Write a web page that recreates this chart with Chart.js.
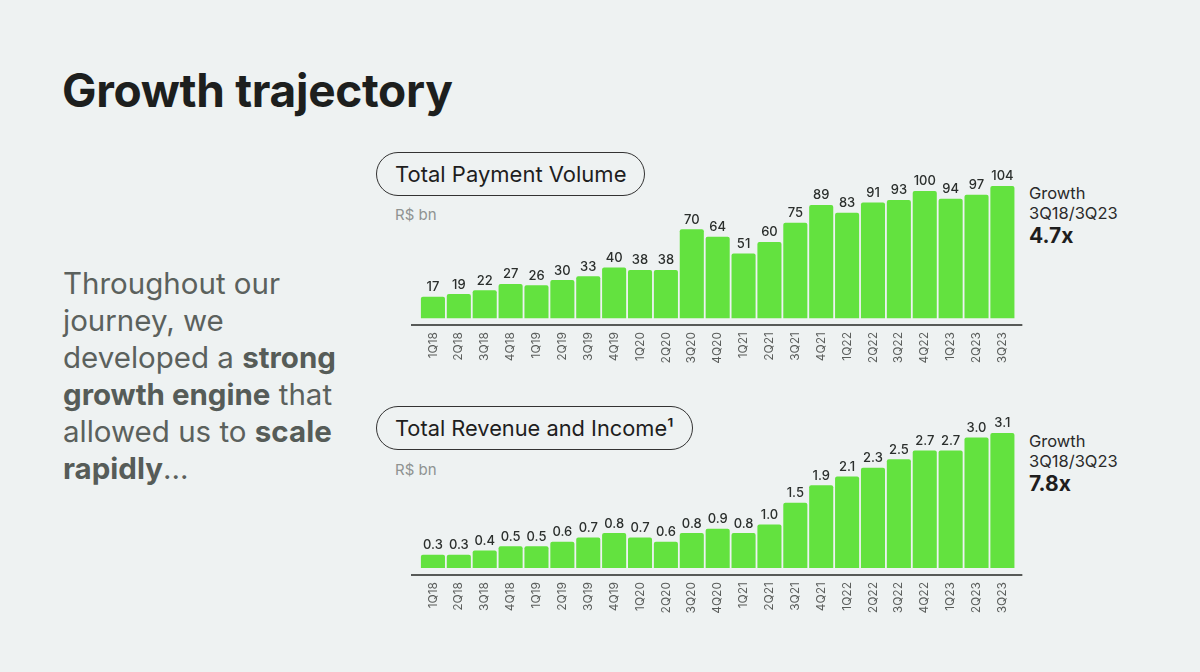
<!DOCTYPE html>
<html>
<head>
<meta charset="utf-8">
<script src="https://cdn.jsdelivr.net/npm/chart.js@4/dist/chart.umd.min.js"></script>
<style>
  html, body { margin: 0; padding: 0; }
  body { width: 1200px; height: 672px; background: #eef2f2; position: relative; overflow: hidden; font-family: Inter, "Noto Sans", sans-serif; }
  .abs { position: absolute; }
  #title { left: 62px; top: 62px; font-size: 46px; font-weight: 700; color: #1d1f1e; letter-spacing: -0.3px; }
  #intro { left: 63px; top: 265px; font-size: 29.5px; line-height: 37px; color: #5b615d; width: 300px; }
  #intro b { font-weight: 700; color: #565c58; }
  .pill { border: 1.5px solid #333; border-radius: 23px; height: 42px; line-height: 42px; padding: 0 18px; color: #1e1e1e; box-sizing: content-box; }
  .unit { font-size: 15px; color: #8f9391; }
  .growth { font-size: 16.5px; line-height: 20px; color: #2a2a2a; }
  .growth b { display: block; font-size: 21px; line-height: 26px; font-weight: 700; color: #1e1e1e; }
</style>
</head>
<body>
<div id="title" class="abs">Growth trajectory</div>
<div id="intro" class="abs">Throughout our<br>journey, we<br>developed a <b>strong</b><br><b>growth engine</b> that<br>allowed us to <b>scale</b><br><b>rapidly</b>...</div>

<div class="abs pill" style="left:376px; top:152px; font-size:22px;">Total Payment Volume</div>
<div class="abs unit" style="left:395px; top:205px;">R$ bn</div>
<div class="abs growth" style="left:1029px; top:183px;">Growth<br>3Q18/3Q23<b>4.7x</b></div>

<div class="abs pill" style="left:376px; top:406px; font-size:21.8px;">Total Revenue and Income¹</div>
<div class="abs unit" style="left:395px; top:460px;">R$ bn</div>
<div class="abs growth" style="left:1029px; top:431px;">Growth<br>3Q18/3Q23<b>7.8x</b></div>

<div class="abs" style="left:411px; top:160px;"><canvas id="tpv" width="614" height="208"></canvas></div>
<div class="abs" style="left:411px; top:410px;"><canvas id="rev" width="614" height="208"></canvas></div>

<script>
// quarters shown on both charts
const quarters = ['1Q18','2Q18','3Q18','4Q18','1Q19','2Q19','3Q19','4Q19','1Q20','2Q20','3Q20','4Q20',
                  '1Q21','2Q21','3Q21','4Q21','1Q22','2Q22','3Q22','4Q22','1Q23','2Q23','3Q23'];
const tpvValues = [17, 19, 22, 27, 26, 30, 33, 40, 38, 38, 70, 64, 51, 60, 75, 89, 83, 91, 93, 100, 94, 97, 104];
const revenueValues = [0.3, 0.3, 0.4, 0.5, 0.5, 0.6, 0.7, 0.8, 0.7, 0.6, 0.8, 0.9, 0.8, 1.0, 1.5, 1.9, 2.1, 2.3, 2.5, 2.7, 2.7, 3.0, 3.1];

const barGreen = '#63e23f';

// value labels above each bar
const valueLabels = {
    id: 'valueLabels',
    afterDatasetsDraw(chart, args, opts) {
        const ctx = chart.ctx;
        const meta = chart.getDatasetMeta(0);
        const data = chart.data.datasets[0].data;
        ctx.save();
        ctx.font = '500 13px Inter, sans-serif';
        ctx.fillStyle = '#2b2f2d';
        ctx.textAlign = 'center';
        ctx.textBaseline = 'bottom';
        meta.data.forEach((bar, i) => {
            ctx.fillText(opts.decimals ? data[i].toFixed(opts.decimals) : String(data[i]), bar.x, bar.y - 3);
        });
        ctx.restore();
    }
};

// base line, a bit wider than the bars
const baseLine = {
    id: 'baseLine',
    afterDatasetsDraw(chart) {
        const a = chart.chartArea;
        const ctx = chart.ctx;
        ctx.save();
        ctx.strokeStyle = '#575a58';
        ctx.lineWidth = 2;
        ctx.beginPath();
        ctx.moveTo(0, a.bottom + 1);
        ctx.lineTo(a.right + 7, a.bottom + 1);
        ctx.stroke();
        ctx.restore();
    }
};

function makeChart(id, values, yMin, yMax, decimals) {
    const ctx = document.getElementById(id).getContext('2d');
    return new Chart(ctx, {
        type: 'bar',
        data: {
            labels: quarters,
            datasets: [{
                data: values,
                backgroundColor: barGreen,
                borderRadius: { topLeft: 2, topRight: 2 },
                borderSkipped: 'bottom',
                barPercentage: 0.93,
                categoryPercentage: 1.0
            }]
        },
        options: {
            responsive: false,
            animation: false,
            layout: { padding: { left: 9, right: 9, top: 0, bottom: 0 } },
            plugins: {
                legend: { display: false },
                tooltip: { enabled: false },
                valueLabels: { decimals: decimals }
            },
            scales: {
                x: {
                    grid: { display: false, drawTicks: false },
                    border: { display: false },
                    ticks: {
                        autoSkip: false,
                        minRotation: 90,
                        maxRotation: 90,
                        padding: 8,
                        color: '#5a5d5b',
                        font: { family: 'Inter', size: 12 }
                    },
                    afterFit(axis) { axis.height = 44; }
                },
                y: {
                    display: false,
                    min: yMin,
                    max: yMax
                }
            }
        },
        plugins: [valueLabels, baseLine]
    });
}

makeChart('tpv', tpvValues, -4.5, 124.4, 0);
makeChart('rev', revenueValues, -0.14, 3.63, 1);
</script>
</body>
</html>
